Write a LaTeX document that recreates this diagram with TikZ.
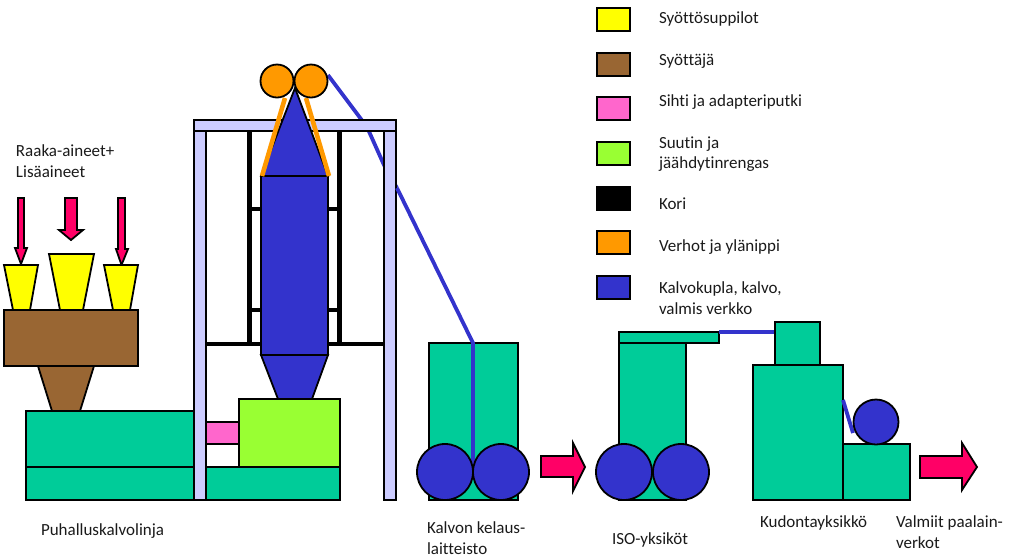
\documentclass[tikz,border=0pt]{standalone}
\usepackage{fontspec}
\setmainfont{Carlito}[Ligatures=NoCommon]
\definecolor{cblue}{HTML}{3333CC}
\definecolor{cgreen}{HTML}{00CC99}
\definecolor{clime}{HTML}{99FF33}
\definecolor{cpink}{HTML}{FF66CC}
\definecolor{cbrown}{HTML}{996633}
\definecolor{corange}{HTML}{FF9900}
\definecolor{ccrim}{HTML}{FF0066}
\definecolor{cframe}{HTML}{CCCCFF}
\definecolor{cyell}{HTML}{FFFF00}
\definecolor{ctext}{HTML}{1A1A1A}
\tikzset{
  shp/.style={draw=black,line width=1.8pt,line join=miter},
  film/.style={draw=cblue,line width=3.8pt},
  curtain/.style={draw=corange,line width=4.6pt},
  basket/.style={draw=black,line width=5pt},
  bar/.style={draw=black,line width=3.6pt},
  lab/.style={anchor=base west,inner sep=0pt,outer sep=0pt,text=ctext,font=\fontsize{17}{20}\selectfont},
  leg/.style={shp,minimum width=0pt},
}
\begin{document}
\begin{tikzpicture}[x=1pt,y=-1pt]
\useasboundingbox (0,0) rectangle (1023,558);
% legend
\draw[leg,fill=cyell] (597,8) rectangle (630,31);
\draw[leg,fill=cbrown] (597,53) rectangle (630,76);
\draw[leg,fill=cpink] (597,97) rectangle (630,120);
\draw[leg,fill=clime] (597,142) rectangle (630,165);
\draw[leg,fill=black] (597,187) rectangle (630,210);
\draw[leg,fill=corange] (597,231) rectangle (630,254);
\draw[leg,fill=cblue] (597,276) rectangle (630,299);
\node[lab] (t1) at (659,23.5) {Syöttösuppilot};
\node[lab] (t2) at (659,65.5) {Syöttäjä};
\node[lab] (t3) at (659,106.5) {Sihti ja adapteriputki};
\node[lab] (t4) at (659,148.5) {Suutin ja};
\node[lab] (t4b) at (659,168.5) {jäähdytinrengas};
\node[lab] (t5) at (659,209.5) {Kori};
\node[lab] (t6) at (659,251.5) {Verhot ja ylänippi};
\node[lab] (t7) at (659,293.5) {Kalvokupla, kalvo,};
\node[lab] (t7b) at (659,314.5) {valmis verkko};
\node[lab] (t8) at (16,156.5) {Raaka-aineet+};
\node[lab] (t8b) at (16,177.5) {Lisäaineet};
\node[lab] (t9) at (41,535.5) {Puhalluskalvolinja};
\node[lab] (t10) at (427,533.5) {Kalvon kelaus-};
\node[lab] (t10b) at (427,554.5) {laitteisto};
\node[lab] (t11) at (612,544.5) {ISO-yksiköt};
\node[lab] (t12) at (760,527.5) {Kudontayksikkö};
\node[lab] (t13) at (896,527.5) {Valmiit paalain-};
\node[lab] (t13b) at (896,548.5) {verkot};
% feed arrows
\draw[shp,fill=ccrim] (18,198)--(24,198)--(24,248)--(27,248)--(21,264)--(15,248)--(18,248)--cycle;
\draw[shp,fill=ccrim] (65,198)--(77,198)--(77,230)--(83,230)--(71,240)--(59,230)--(65,230)--cycle;
\draw[shp,fill=ccrim] (118,198)--(125,198)--(125,249)--(128,249)--(121.5,265)--(116,249)--(118,249)--cycle;
% hoppers and feeder
\draw[shp,fill=cyell] (4,265)--(38,265)--(30,310)--(13,310)--cycle;
\draw[shp,fill=cyell] (49,254)--(94,254)--(83,310)--(60,310)--cycle;
\draw[shp,fill=cyell] (104,265)--(138,265)--(130,310)--(113,310)--cycle;
\draw[shp,fill=cbrown] (38,366)--(94,366)--(80,411)--(52,411)--cycle;
\draw[shp,fill=cbrown] (4,310) rectangle (138,366);
% extruder
\draw[shp,fill=cgreen] (26,411) rectangle (194,467);
\draw[shp,fill=cgreen] (26,467) rectangle (194,500);
\draw[shp,fill=cgreen] (206,467) rectangle (340,500);
\draw[shp,fill=cpink] (206,422) rectangle (239,444);
% basket
\draw[basket] (249.5,131)--(249.5,344);
\draw[basket] (339.5,131)--(339.5,344);
\draw[bar] (249.5,209)--(339.5,209);
\draw[bar] (249.5,310)--(339.5,310);
\draw[bar] (206,344)--(384,344);
% film
\coordinate (f0) at (328,75);
\coordinate (f1) at (367,127);
\coordinate (f2) at (384,165);
\coordinate (f3) at (397,188);
\coordinate (f4) at (473,343);
\coordinate (f5) at (473,466);
\draw[film] (f0)--(f1)--(f2)--(f3);
% frame
\draw[shp,fill=cframe] (194,131) rectangle (206,500);
\draw[shp,fill=cframe] (384,131) rectangle (396,500);
\draw[shp,fill=cframe] (194,120) rectangle (396,131);
% bubble
\draw[shp,fill=cblue] (295,88)--(328,176)--(261,176)--cycle;
\draw[shp,fill=cblue] (261,355)--(328,355)--(312,399)--(278,399)--cycle;
\draw[shp,fill=cblue] (261,176) rectangle (328,355);
\draw[shp,fill=clime] (239,399) rectangle (340,467);
\draw[curtain] (285,98)--(262,176);
\draw[curtain] (306,98)--(329,176);
\draw[shp,fill=corange] (277,81) circle[radius=16.5];
\draw[shp,fill=corange] (311,81) circle[radius=16.5];
% winder
\draw[shp,fill=cgreen] (429,343) rectangle (518,500);
\draw[film] (f3)--(f4)--(f5);
\draw[shp,fill=cblue] (445,472) circle[radius=28];
\draw[shp,fill=cblue] (501,472) circle[radius=28];
\draw[shp,fill=ccrim] (541,456)--(573,456)--(573,443)--(585,467)--(573,491)--(573,477)--(541,477)--cycle;
% ISO
\draw[shp,fill=cgreen] (619,343) rectangle (686,500);
\draw[shp,fill=cgreen] (619,332) rectangle (719,343);
\draw[shp,fill=cblue] (624,472) circle[radius=28];
\draw[shp,fill=cblue] (681,472) circle[radius=28];
\draw[film] (719,332)--(775,332);
% weaving
\draw[shp,fill=cgreen] (775,322) rectangle (820,365);
\draw[shp,fill=cgreen] (753,365) rectangle (843,500);
\draw[shp,fill=cgreen] (843,444) rectangle (910,500);
\draw[film] (843,400)--(853,433);
\draw[shp,fill=cblue] (876,422) circle[radius=22.5];
\draw[shp,fill=ccrim] (920,456)--(962,456)--(962,443)--(977,467)--(962,490)--(962,478)--(920,478)--cycle;
\end{tikzpicture}
\end{document}
